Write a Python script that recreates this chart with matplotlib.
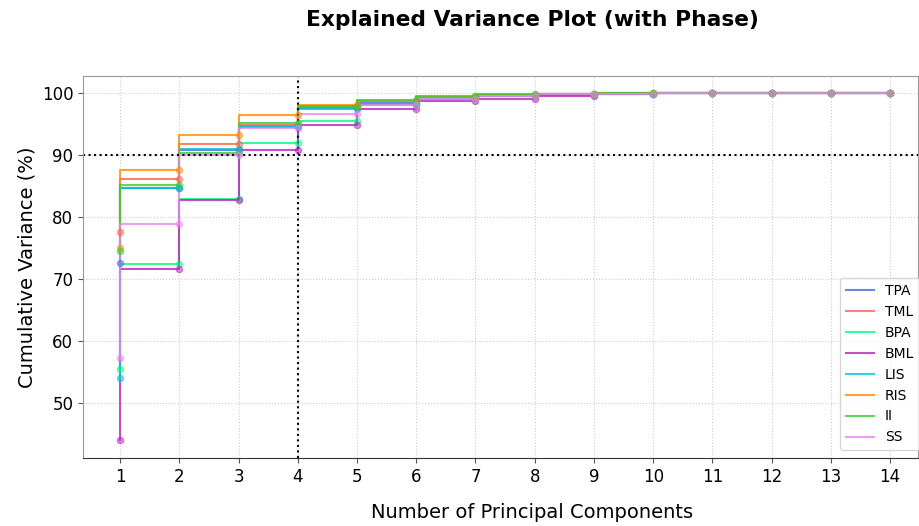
import numpy as np
import matplotlib
matplotlib.use('Agg')
import matplotlib.pyplot as plt

# cumulative explained variance (%) per group
components = np.arange(1, 15)
labels = ['TPA', 'TML', 'BPA', 'BML', 'LIS', 'RIS', 'II', 'SS']
colors = ['#4169e1', '#ff6347', '#00ff7f', '#bf1fbf', '#00c5d5', '#ff8c00', '#32cd32', '#ee82ee']

tpa = [72.6, 84.7, 90.8, 94.5, 97.6, 98.4, 99.2, 99.6, 99.8, 99.9, 99.95, 99.98, 100.0, 100.0]
tml = [77.6, 86.1, 91.7, 94.9, 97.7, 98.7, 99.3, 99.7, 99.85, 99.93, 99.97, 99.99, 100.0, 100.0]
bpa = [55.4, 72.4, 82.9, 92.0, 95.5, 98.0, 99.0, 99.5, 99.75, 99.9, 99.95, 99.98, 100.0, 100.0]
bml = [44.0, 71.6, 82.8, 90.8, 94.9, 97.4, 98.7, 99.1, 99.6, 99.85, 99.93, 99.97, 100.0, 100.0]
lis = [54.0, 84.6, 91.0, 94.7, 97.4, 98.2, 99.1, 99.5, 99.8, 99.9, 99.95, 99.98, 100.0, 100.0]
ris = [75.0, 87.5, 93.2, 96.4, 98.0, 98.7, 99.4, 99.7, 99.85, 99.93, 99.97, 99.99, 100.0, 100.0]
ii = [74.5, 85.2, 90.4, 95.2, 97.9, 98.8, 99.5, 99.8, 99.9, 99.95, 99.97, 99.99, 100.0, 100.0]
ss = [57.2, 78.9, 90.0, 94.3, 96.6, 98.0, 99.0, 99.5, 99.8, 99.9, 99.95, 99.98, 100.0, 100.0]
series = [tpa, tml, bpa, bml, lis, ris, ii, ss]

fig = plt.figure(figsize=(9.2, 5.26), dpi=100)
ax = fig.add_axes([83/920, 1 - 458/526, (918 - 83)/920, (458 - 76)/526])

for y, lab, c in zip(series, labels, colors):
    ax.step(components, y, where='pre', color=c, alpha=0.8, linewidth=1.5, label=lab)
    ax.scatter(components, y, color=c, alpha=0.5, s=20, zorder=3)

ax.axvline(4, color='k', linestyle=':', linewidth=1.5)
ax.axhline(90, color='k', linestyle=':', linewidth=1.5)

ax.set_xlim(0.375, 14.47)
ax.set_ylim(41.1, 102.75)
ax.set_xticks(components)
ax.tick_params(labelsize=12, color='#555555')
ax.grid(True, linestyle=':', color='#cccccc', linewidth=0.8)
for s in ['left', 'top', 'right']:
    ax.spines[s].set_color('#999999')
ax.spines['bottom'].set_color('#333333')

ax.set_ylabel('Cumulative Variance (%)', fontsize=14)
ax.set_xlabel('Number of Principal Components', fontsize=14)
ax.xaxis.set_label_coords((532 - 83)/835, -0.118)
ax.set_title('Explained Variance Plot (with Phase)', fontsize=15.7, fontweight='bold',
             x=(532 - 83)/835, y=1.0, pad=36)
ax.legend(loc='lower right', fontsize=10, borderaxespad=0, bbox_to_anchor=(1.002, 0.021))

fig.savefig('out.png', dpi=100)
